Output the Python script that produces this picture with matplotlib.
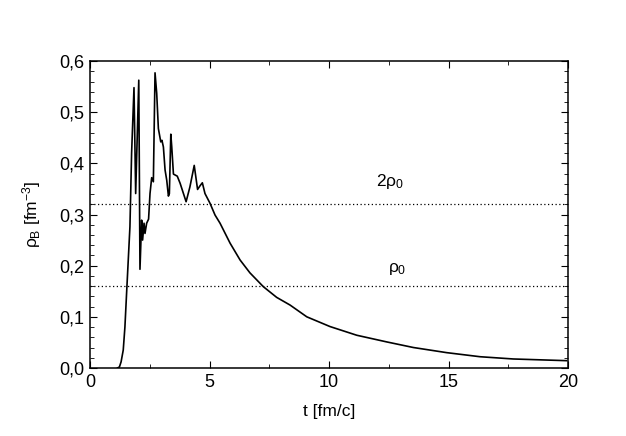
import matplotlib
matplotlib.use('Agg')
import matplotlib.pyplot as plt
from matplotlib.ticker import MultipleLocator, FuncFormatter

plt.rcParams['font.family'] = ['Liberation Sans', 'DejaVu Sans']
plt.rcParams['mathtext.fontset'] = 'custom'
plt.rcParams['mathtext.rm'] = 'Liberation Sans'
plt.rcParams['mathtext.it'] = 'Liberation Sans'

# baryon density vs time
t = [1.15, 1.23, 1.30, 1.39, 1.46, 1.53, 1.67, 1.74, 1.84, 1.91, 2.04, 2.09, 2.16, 2.20, 2.26,
     2.30, 2.37, 2.45, 2.51, 2.58, 2.65, 2.72, 2.79, 2.86, 2.96, 3.01, 3.07, 3.14,
     3.21, 3.28, 3.32, 3.38, 3.42, 3.49, 3.65, 3.77, 4.02, 4.18, 4.36, 4.50, 4.60,
     4.70, 4.81, 5.02, 5.23, 5.44, 5.86, 6.28, 6.69, 7.25, 7.81, 8.37, 9.07, 10.04,
     11.16, 12.41, 13.53, 14.92, 16.32, 17.71, 19.94]
rho = [0.0, 0.002, 0.012, 0.035, 0.08, 0.146, 0.276, 0.42, 0.548, 0.341, 0.5625, 0.193, 0.289, 0.25,
       0.283, 0.263, 0.283, 0.291, 0.341, 0.372, 0.364, 0.577, 0.537, 0.468, 0.442,
       0.445, 0.432, 0.387, 0.367, 0.336, 0.341, 0.457, 0.432, 0.379, 0.375, 0.361,
       0.325, 0.354, 0.396, 0.349, 0.356, 0.362, 0.341, 0.322, 0.299, 0.283, 0.244,
       0.211, 0.186, 0.159, 0.138, 0.123, 0.100, 0.081, 0.064, 0.051, 0.040, 0.030,
       0.022, 0.0176, 0.0143]

rho0 = 0.16

fig = plt.figure(figsize=(6.26, 4.36), dpi=100)
ax = fig.add_axes([0.1438, 0.156, 0.7636, 0.704])

ax.plot(t, rho, color='black', lw=1.2)
ax.axhline(rho0, color='black', lw=0.9, ls=(0, (1, 2)))
ax.axhline(2 * rho0, color='black', lw=0.9, ls=(0, (1, 2)))
ax.text(12.55, 0.345, r'2$\rho_0$', fontsize=12.5, ha='center', va='bottom')
ax.text(12.85, 0.177, r'$\rho_0$', fontsize=12.5, ha='center', va='bottom')

ax.set_xlim(0, 20)
ax.set_ylim(0, 0.6)
ax.xaxis.set_major_locator(MultipleLocator(5))
ax.xaxis.set_minor_locator(MultipleLocator(2.5))
ax.yaxis.set_major_locator(MultipleLocator(0.1))
ax.yaxis.set_minor_locator(MultipleLocator(0.02))
ax.yaxis.set_major_formatter(FuncFormatter(lambda v, p: f'{v:.1f}'.replace('.', ',')))
ax.tick_params(which='both', direction='in', top=True, right=True, labelsize=13)
ax.tick_params(which='major', length=5, pad=4)
ax.tick_params(which='minor', length=3)
for s in ax.spines.values():
    s.set_linewidth(1.1)

ax.set_xlabel('t [fm/c]', fontsize=12.5, labelpad=10)
ax.set_ylabel(r'$\rho_B$ [fm$^{-3}$]', fontsize=12.5, labelpad=12)

fig.savefig('out.png', dpi=100)
